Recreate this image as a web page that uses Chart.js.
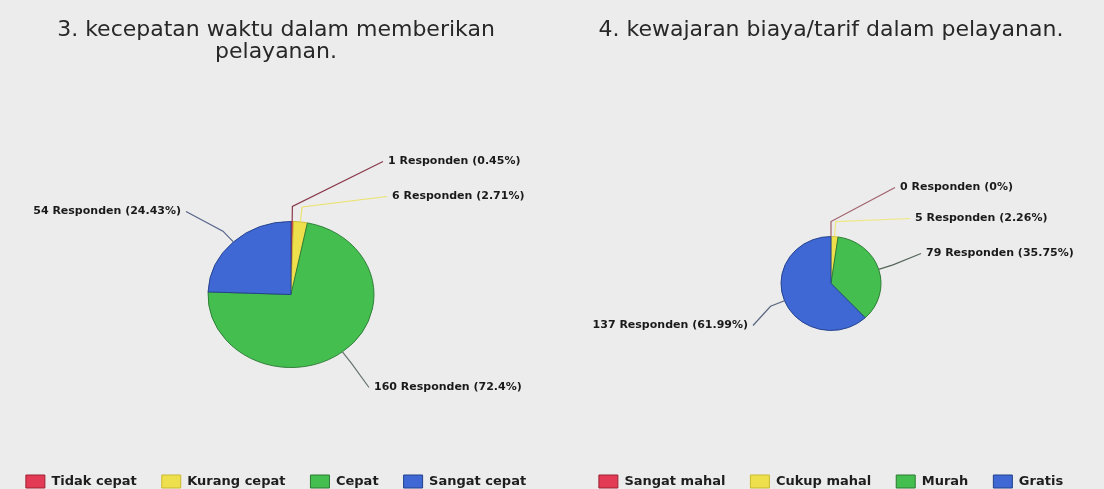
<!DOCTYPE html>
<html>
<head>
<meta charset="utf-8">
<script src="https://cdn.jsdelivr.net/npm/chart.js@4.4.1/dist/chart.umd.min.js"></script>
<style>
    body { margin: 0; background: #ececec; }
    #wrap { position: relative; width: 1104px; height: 489px; overflow: hidden; }
    .box { position: absolute; top: 0; width: 552px; height: 503px; }
</style>
</head>
<body>
<div id="wrap">
    <div class="box" style="left:0"><canvas id="speedPie" width="552" height="503"></canvas></div>
    <div class="box" style="left:552px"><canvas id="costPie" width="552" height="503"></canvas></div>
</div>
<script>
// chart data
var speedTitle = ['3. kecepatan waktu dalam memberikan', 'pelayanan.'];
var speedLabels = ['Tidak cepat', 'Kurang cepat', 'Cepat', 'Sangat cepat'];
var speedValues = [1, 6, 160, 54];

var costTitle = '4. kewajaran biaya/tarif dalam pelayanan.';
var costLabels = ['Sangat mahal', 'Cukup mahal', 'Murah', 'Gratis'];
var costValues = [0, 5, 79, 137];

var unitText = 'Responden';

var sliceColors = ['#e33b55', '#eee04c', '#44bf4f', '#3f68d4'];
var sliceBorders = ['#9e2233', '#c9b930', '#2b7a33', '#22408a'];

Chart.defaults.font.family = '"DejaVu Sans", sans-serif';
Chart.defaults.color = '#1e1e1e';

// squashes the pie a little (tilted look) and draws the callout labels
var pieLook = {
    id: 'pieLook',
    beforeDatasetsDraw: function(chart, args, opts) {
        var first = chart.getDatasetMeta(0).data[0];
        var ctx = chart.ctx;
        ctx.save();
        ctx.translate(first.x + opts.shiftX, first.y);
        ctx.scale(1, opts.squash);
        ctx.translate(-first.x, -first.y);
    },
    afterDatasetsDraw: function(chart, args, opts) {
        var ctx = chart.ctx;
        ctx.restore();

        var values = chart.data.datasets[0].data;
        var total = values.reduce(function(a, b) { return a + b; }, 0);

        ctx.save();
        ctx.font = 'bold 11px "DejaVu Sans"';
        ctx.textBaseline = 'middle';
        ctx.lineWidth = 1.2;
        chart.getDatasetMeta(0).data.forEach(function(arc, i) {
            var cx = arc.x + opts.shiftX;
            var cy = arc.y;
            var r = arc.outerRadius;
            var mid = (arc.startAngle + arc.endAngle) / 2;
            var dx = Math.cos(mid), dy = Math.sin(mid);

            var sx = cx + dx * r, sy = cy + dy * r * opts.squash;
            var ex = sx + dx * 15, ey = sy + dy * 15;
            var spot = opts.spots[i];
            var lx = cx + spot[0], ly = cy + spot[1];
            var leftSide = spot[0] < 0;

            ctx.strokeStyle = opts.lineColors[i];
            ctx.beginPath();
            ctx.moveTo(sx, sy);
            ctx.lineTo(ex, ey);
            ctx.lineTo(leftSide ? lx + 5 : lx - 5, ly);
            ctx.stroke();

            var pct = parseFloat((values[i] / total * 100).toFixed(2));
            ctx.fillStyle = '#1a1a1a';
            ctx.textAlign = leftSide ? 'right' : 'left';
            ctx.fillText(values[i] + ' ' + unitText + ' (' + pct + '%)', lx, ly);
        });
        ctx.restore();
    }
};

function makePie(canvasId, title, labels, values, look) {
    var ctx = document.getElementById(canvasId).getContext('2d');
    return new Chart(ctx, {
        type: 'pie',
        data: {
            labels: labels,
            datasets: [{
                data: values,
                backgroundColor: sliceColors,
                borderColor: sliceBorders,
                borderWidth: 1,
                radius: look.radius
            }]
        },
        plugins: [pieLook],
        options: {
            responsive: false,
            animation: false,
            layout: { padding: { left: look.padLeft, right: 0, top: 0, bottom: 5 } },
            plugins: {
                tooltip: { enabled: false },
                title: {
                    display: true,
                    text: title,
                    color: '#282828',
                    font: { size: 22, weight: 'normal', lineHeight: 1.0 },
                    padding: { top: 19, bottom: 76 }
                },
                legend: {
                    position: 'bottom',
                    labels: {
                        boxWidth: 19,
                        boxHeight: 13,
                        padding: 25,
                        color: '#1e1e1e',
                        font: { size: 13, weight: 'bold' }
                    }
                },
                pieLook: look
            }
        }
    });
}

document.addEventListener('DOMContentLoaded', function() {
    makePie('speedPie', speedTitle, speedLabels, speedValues, {
        radius: 83,
        squash: 0.88,
        shiftX: 15,
        padLeft: 0,
        spots: [[97, -133], [101, -98], [83, 93], [-110, -83]],
        lineColors: ['#8a3a4a', '#ece26e', '#66736c', '#56648a']
    });
    makePie('costPie', costTitle, costLabels, costValues, {
        radius: 50,
        squash: 0.94,
        shiftX: 0,
        padLeft: 6,
        spots: [[69, -96], [84, -65], [95, -30], [-83, 42]],
        lineColors: ['#a0606a', '#efe785', '#56665a', '#56647e']
    });
});
</script>
</body>
</html>
